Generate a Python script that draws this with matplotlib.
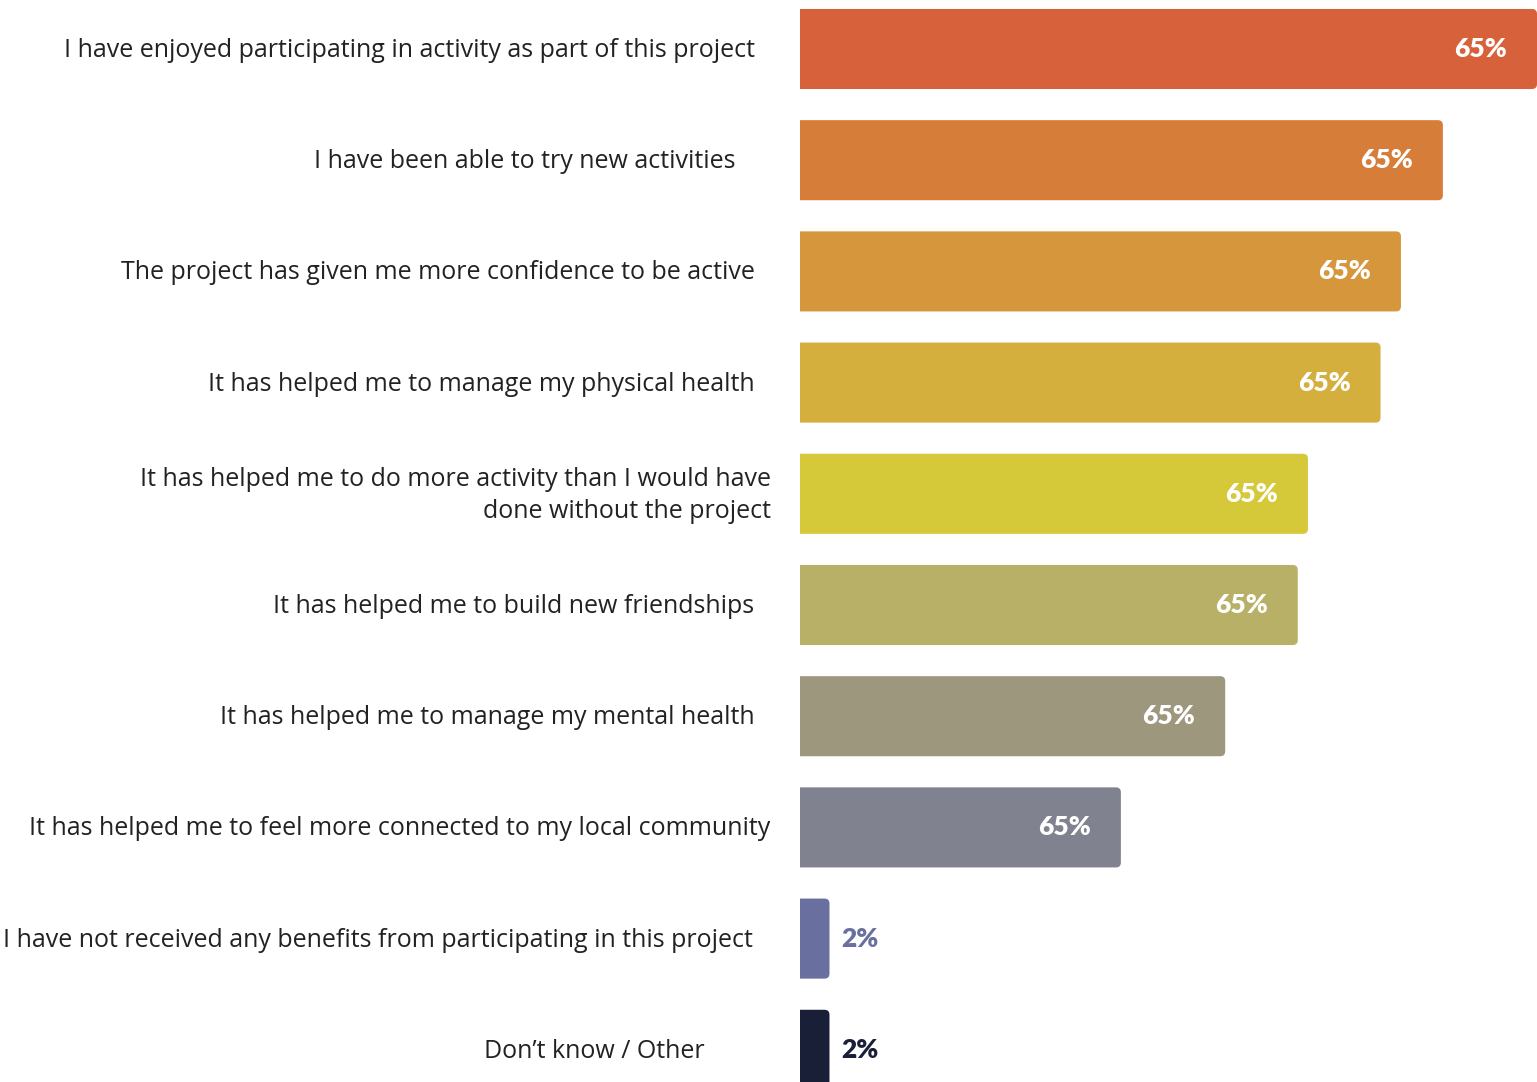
import matplotlib.pyplot as plt
from matplotlib.patches import FancyBboxPatch
from matplotlib.transforms import blended_transform_factory

plt.rcParams["font.family"] = ["Open Sans", "DejaVu Sans"]

# statements, top to bottom
statements = [
    "I have enjoyed participating in activity as part of this project",
    "I have been able to try new activities",
    "The project has given me more confidence to be active",
    "It has helped me to manage my physical health",
    "It has helped me to do more activity than I would have\ndone without the project",
    "It has helped me to build new friendships",
    "It has helped me to manage my mental health",
    "It has helped me to feel more connected to my local community",
    "I have not received any benefits from participating in this project",
    "Don\u2019t know / Other",
]
# bar lengths as drawn (scaled so the longest is 65)
bar_values = [65, 56.7, 53.0, 51.2, 44.8, 43.9, 37.5, 28.3, 2.6, 2.6]
# value labels as printed on the chart
value_labels = ["65%", "65%", "65%", "65%", "65%", "65%", "65%", "65%", "2%", "2%"]
colors = ["#D6613A", "#D67D3A", "#D6973C", "#D5AF3D", "#D5C93A",
          "#B8B066", "#9C977D", "#81828F", "#6970A0", "#1A1F38"]
# right edge of each statement, in figure pixels
label_right = [755, 735, 755, 755, 771, 754, 755, 770, 753, 705]

W, H = 1537, 1082
fig = plt.figure(figsize=(W / 100, H / 100), dpi=100)
ax = fig.add_axes([800 / W, 0, 737 / W, 1])
ax.set_xlim(0, 65)
ax.set_ylim((H - 49) / 111.2, -49 / 111.2)
ax.axis("off")

px_x = 737 / 65      # pixels per x unit
px_y = 111.2         # pixels per y unit
bar_h = 0.72
r = 5 / px_x
dy = 1.5 / px_y      # nudge statements down a little

trans = blended_transform_factory(fig.transFigure, ax.transData)
for i, (name, v, lab, c) in enumerate(zip(statements, bar_values, value_labels, colors)):
    patch = FancyBboxPatch((-2, i - bar_h / 2), v + 2, bar_h,
                           boxstyle=f"round,pad=0,rounding_size={r}",
                           mutation_aspect=px_x / px_y,
                           facecolor=c, edgecolor="none")
    ax.add_patch(patch)
    if v > 10:
        ax.text(v - 30 / px_x, i, lab, ha="right", va="center", color="white",
                fontsize=19, fontweight="heavy", family=["Lato", "DejaVu Sans"])
    else:
        ax.text(v + 12 / px_x, i, lab, ha="left", va="center", color=c,
                fontsize=19, fontweight="heavy", family=["Lato", "DejaVu Sans"])
    fig.text(label_right[i] / W, i + dy, name, transform=trans, ha="right", va="center",
             color="#222222", fontsize=18, fontweight="medium",
             multialignment="right", linespacing=1.4)

fig.savefig("out.png", dpi=100)
